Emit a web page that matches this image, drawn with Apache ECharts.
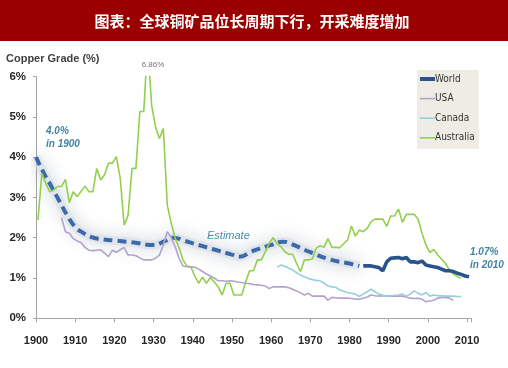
<!DOCTYPE html>
<html><head><meta charset="utf-8">
<script src="https://cdn.jsdelivr.net/npm/echarts@6/dist/echarts.min.js"></script>
<style>html,body{margin:0;padding:0;background:#fff}#c{width:508px;height:368px}</style>
</head><body><div id="c"></div>
<script>
// ---- data (copper ore grade, %) ----
var titleText = '图表：全球铜矿品位长周期下行，开采难度增加';
var yAxisTitle = 'Copper Grade (%)';
var xTicks = [1900,1910,1920,1930,1940,1950,1960,1970,1980,1990,2000,2010];
var yTicks = [0,1,2,3,4,5,6];

var ausStart = 1900;
var ausValues = [2.44,3.60,3.35,3.14,3.18,3.27,3.27,3.45,2.87,3.14,3.02,3.15,3.28,3.14,3.14,3.72,3.43,3.56,3.85,3.85,
  4.01,3.47,2.31,2.56,3.72,3.72,5.13,5.13,6.86,5.29,4.75,4.46,4.71,2.81,2.36,2.00,1.75,1.45,1.30,1.28,
  1.05,0.87,1.02,0.87,1.02,0.90,0.78,0.58,0.87,0.87,0.58,0.58,0.58,0.90,1.18,1.18,1.45,1.45,1.65,1.86,
  2.00,1.86,1.78,1.65,1.59,1.59,1.36,1.16,1.45,1.45,1.47,1.74,1.80,1.76,1.98,1.76,1.76,1.75,1.85,1.94,
  2.29,2.04,2.19,2.15,2.23,2.40,2.46,2.46,2.46,2.28,2.54,2.54,2.71,2.38,2.58,2.58,2.58,2.46,2.11,1.82,
  1.63,1.71,1.57,1.47,1.36,1.20,1.10,1.04,0.99];

var usaStart = 1906;
var usaValues = [2.50,2.15,2.11,1.98,1.92,1.88,1.76,1.69,1.68,1.69,1.70,1.62,1.53,1.69,1.64,1.70,1.76,1.57,1.57,1.55,
  1.50,1.45,1.45,1.45,1.49,1.57,1.82,2.15,2.00,1.78,1.49,1.30,1.28,1.27,1.27,1.22,1.16,1.10,1.05,1.00,
  0.93,0.93,0.92,0.93,0.92,0.90,0.89,0.87,0.86,0.84,0.83,0.82,0.80,0.74,0.78,0.78,0.78,0.78,0.76,0.72,
  0.68,0.63,0.58,0.62,0.55,0.55,0.55,0.55,0.45,0.52,0.51,0.50,0.50,0.50,0.49,0.48,0.47,0.50,0.53,0.58,
  0.56,0.55,0.56,0.55,0.55,0.55,0.55,0.55,0.53,0.50,0.49,0.50,0.47,0.41,0.43,0.45,0.50,0.52,0.52,0.50,0.44];

var canStart = 1961;
var canValues = [1.27,1.32,1.29,1.24,1.20,1.13,1.07,1.03,0.99,0.96,0.94,0.93,0.87,0.80,0.78,0.77,0.70,0.67,0.64,0.62,
  0.60,0.54,0.60,0.66,0.72,0.66,0.60,0.57,0.55,0.56,0.57,0.58,0.60,0.55,0.60,0.68,0.62,0.58,0.64,0.55,
  0.58,0.56,0.56,0.55,0.55,0.55,0.54,0.54];

var worldStart = 1983;
var worldValues = [1.30,1.30,1.30,1.28,1.26,1.18,1.40,1.49,1.50,1.51,1.48,1.51,1.40,1.40,1.38,1.42,1.32,1.30,1.28,1.26,
  1.22,1.18,1.18,1.16,1.12,1.09,1.05,1.03];

var estYears  = [1900,1902,1904,1906,1908,1910,1912,1914,1916,1920,1925,1930,1933,1935,1938,1940,1945,1950,1952,1955,1960,1963,1965,1970,1975,1980,1982.5];
var estValues = [4.00,3.60,3.26,2.90,2.55,2.27,2.12,2.02,1.97,1.93,1.88,1.82,1.92,2.00,1.92,1.86,1.72,1.58,1.53,1.66,1.82,1.90,1.85,1.64,1.46,1.36,1.30];

// ---- build ----
function annual(start, vals){ // annual value drawn at mid-year
  return vals.map(function(v,i){ return [start + i + 0.5, v]; });
}
var estData = estYears.map(function(y,i){ return [y, estValues[i]]; });

var chart = echarts.init(document.getElementById('c'), null, {renderer:'canvas'});
var txtBlue = '#3f82a3';
chart.setOption({
  animation:false,
  backgroundColor:'#ffffff',
  grid:{left:36, right:37, top:76.5, bottom:49.7},
  xAxis:{type:'value', min:1900, max:2011, interval:10,
    axisLine:{show:true, lineStyle:{color:'#a6a6a6', width:1}},
    axisTick:{show:true, length:4, lineStyle:{color:'#a6a6a6'}},
    splitLine:{show:false},
    axisLabel:{margin:17, color:'#262626', fontWeight:'bold', fontSize:11, fontFamily:'Liberation Sans',
      formatter:function(v){ return xTicks.indexOf(v)>=0 ? String(v) : ''; }}
  },
  yAxis:{type:'value', min:0, max:6, interval:1,
    axisLine:{show:true, lineStyle:{color:'#a6a6a6', width:1}},
    axisTick:{show:true, length:3, lineStyle:{color:'#a6a6a6'}},
    splitLine:{show:false},
    axisLabel:{margin:10, color:'#262626', fontWeight:'bold', fontSize:11.5, fontFamily:'Liberation Sans',
      formatter:function(v){ return yTicks.indexOf(v)>=0 ? v + '%' : ''; }}
  },
  legend:{
    orient:'vertical', left:417, top:70,
    backgroundColor:'#eeece4', padding:[4,4,6,3], itemGap:9.6,
    itemWidth:15, itemHeight:10,
    textStyle:{fontFamily:'DejaVu Sans Condensed, Liberation Sans', fontSize:10, color:'#333', padding:[0,0,0,-5]},
    data:[
      {name:'World', icon:'path://M0,0H15V4H0Z'},
      {name:'USA', icon:'path://M0,0H15V1.6H0Z'},
      {name:'Canada', icon:'path://M0,0H15V1.6H0Z'},
      {name:'Australia', icon:'path://M0,0H15V1.6H0Z'}
    ]
  },
  series:[
    {name:'EstimateGlow', type:'line', data:estData, smooth:0.5, showSymbol:false, symbol:'none', z:2, silent:true,
      lineStyle:{color:'rgba(214,222,230,0.55)', width:9,
        shadowColor:'rgba(80,100,120,0.5)', shadowBlur:16}},
    {name:'Estimate', type:'line', data:estData, smooth:0.5, showSymbol:false, symbol:'none', z:3,
      lineStyle:{color:'#3d69a9', width:4, type:[9,5], cap:'butt'}},
    {name:'Australia', type:'line', data:annual(ausStart, ausValues), showSymbol:false, symbol:'none', z:4,
      itemStyle:{color:'#92cf4c'}, lineStyle:{color:'#92cf4c', width:1.6}},
    {name:'USA', type:'line', data:annual(usaStart, usaValues), showSymbol:false, symbol:'none', z:4,
      itemStyle:{color:'#b3a3cc'}, lineStyle:{color:'#b3a3cc', width:1.6}},
    {name:'Canada', type:'line', data:annual(canStart, canValues), showSymbol:false, symbol:'none', z:4,
      itemStyle:{color:'#93cfdf'}, lineStyle:{color:'#93cfdf', width:1.6}},
    {name:'World', type:'line', data:annual(worldStart, worldValues), showSymbol:false, symbol:'none', z:5,
      itemStyle:{color:'#2a538e'}, lineStyle:{color:'#2a538e', width:3.6}}
  ],
  graphic:[
    {type:'rect', left:0, top:0, shape:{width:508, height:41}, style:{fill:'#9b0000'}, z:10},
    {type:'text', x:252, y:21, z:11, style:{text:titleText, fill:'#ffffff', font:'bold 15px "Noto Sans CJK SC"', textAlign:'center', textVerticalAlign:'middle'}},
    {type:'text', x:6, y:59, style:{text:yAxisTitle, fill:'#404040', font:'bold 11px "Liberation Sans"', textVerticalAlign:'middle'}},
    {type:'text', x:153, y:65, style:{text:'6.86%', fill:'#777777', font:'8px "Liberation Sans"', textAlign:'center', textVerticalAlign:'middle'}},
    {type:'text', x:46, y:131, style:{text:'4.0%', fill:txtBlue, font:'italic bold 10px "Liberation Sans"', textVerticalAlign:'middle'}},
    {type:'text', x:46, y:144, style:{text:'in 1900', fill:txtBlue, font:'italic bold 10px "Liberation Sans"', textVerticalAlign:'middle'}},
    {type:'text', x:207, y:236, style:{text:'Estimate', fill:'#4a93ab', font:'italic 11px "Liberation Sans"', textVerticalAlign:'middle'}},
    {type:'text', x:470, y:252, style:{text:'1.07%', fill:txtBlue, font:'italic bold 10px "Liberation Sans"', textVerticalAlign:'middle'}},
    {type:'text', x:470, y:265, style:{text:'in 2010', fill:txtBlue, font:'italic bold 10px "Liberation Sans"', textVerticalAlign:'middle'}}
  ]
});
</script>
</body></html>
